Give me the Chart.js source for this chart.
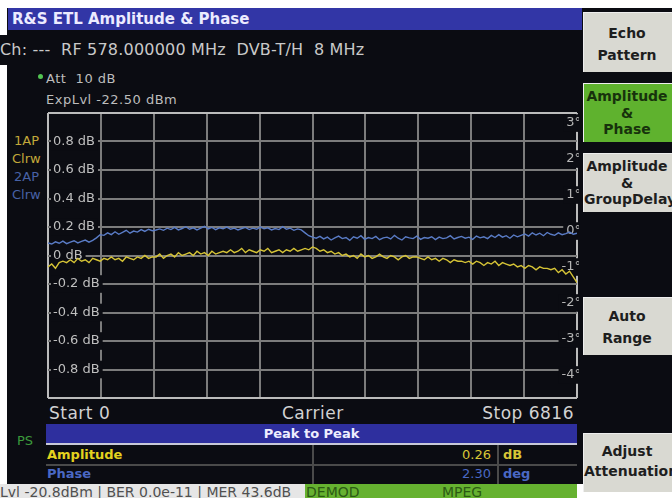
<!DOCTYPE html>
<html>
<head>
<meta charset="utf-8">
<script src="https://cdn.jsdelivr.net/npm/chart.js@4.4.1/dist/chart.umd.min.js"></script>
<style>
html, body { margin: 0; padding: 0; background: #fff; }
#screen { position: relative; width: 672px; height: 498px; overflow: hidden; background: #fff; font-family: "DejaVu Sans", sans-serif; }
.abs { position: absolute; white-space: nowrap; }
#panel { left: 7px; top: 8px; width: 665px; height: 476px; background: #0b0c12; }
#title { left: 8px; top: 8px; width: 574px; height: 22px; background: #3236a6; color: #ecebff; font-weight: bold; font-size: 15px; line-height: 22px; padding-left: 4px; box-sizing: border-box; }
#chline { left: 0; top: 35px; width: 582px; height: 30px; background: #0b0c12; color: #c9c9c9; font-size: 16px; letter-spacing: 0.2px; line-height: 30px; }
.info { color: #bdbdbd; font-size: 13px; letter-spacing: 0.5px; }
.trk { font-size: 13px; }
.axis { color: #d2d2d2; font-size: 17px; letter-spacing: 0.5px; }
#chart { position: absolute; left: 46px; top: 111px; }
.key { left: 583px; width: 100px; background: #d9d9d2; color: #1e1e1e; font-weight: bold; font-size: 14px; border-left: 1px solid #eee; border-top: 1px solid #eee; box-sizing: border-box; }
.key div { width: 86px; text-align: center; position: absolute; left: 0; white-space: nowrap; line-height: 18px; }
#tbl { left: 46px; top: 424px; width: 531px; height: 60px; }
.cell { position: absolute; font-size: 13px; }
</style>
</head>
<body>
<div id="screen">
  <div class="abs" id="panel"></div>
  <div class="abs" id="title">R&amp;S ETL Amplitude &amp; Phase</div>
  <div class="abs" id="chline">Ch: ---&nbsp; RF 578.000000 MHz&nbsp; DVB-T/H&nbsp; 8 MHz</div>

  <div class="abs" style="left:38px;top:74px;width:5px;height:5px;border-radius:3px;background:#52c452;"></div>
  <div class="abs info" style="left:46px;top:71px;">Att&nbsp; 10 dB</div>
  <div class="abs info" style="left:46px;top:92px;">ExpLvl -22.50 dBm</div>

  <div class="abs trk" style="left:14px;top:133px;color:#c2a83a;">1AP</div>
  <div class="abs trk" style="left:12px;top:151px;color:#c2a83a;">Clrw</div>
  <div class="abs trk" style="left:14px;top:169px;color:#4862a6;">2AP</div>
  <div class="abs trk" style="left:12px;top:187px;color:#4862a6;">Clrw</div>

  <canvas id="chart" width="533" height="289"></canvas>

  <div class="abs axis" style="left:49px;top:403px;">Start 0</div>
  <div class="abs axis" style="left:282px;top:403px;">Carrier</div>
  <div class="abs axis" style="right:98px;top:403px;">Stop 6816</div>

  <div class="abs" style="left:17px;top:433px;color:#3c9a3c;font-size:13px;">PS</div>

  <div class="abs" id="tbl">
    <div style="position:absolute;left:0;top:0;width:531px;height:19px;background:#2e2f9e;color:#eeeeff;font-weight:bold;font-size:13px;line-height:19px;text-align:center;">Peak to Peak</div>
    <div style="position:absolute;left:0;top:19px;width:531px;height:2px;background:#c8c8d8;"></div>
    <div style="position:absolute;left:0;top:40px;width:531px;height:2px;background:#4a4a4a;"></div>
    <div style="position:absolute;left:266px;top:21px;width:2px;height:39px;background:#4a4a4a;"></div>
    <div style="position:absolute;left:451px;top:21px;width:2px;height:39px;background:#4a4a4a;"></div>
    <div class="cell" style="left:1px;top:23px;color:#e4d21e;font-weight:bold;">Amplitude</div>
    <div class="cell" style="right:86px;top:23px;color:#d8c636;">0.26</div>
    <div class="cell" style="left:457px;top:23px;color:#d8c636;font-weight:bold;">dB</div>
    <div class="cell" style="left:1px;top:42px;color:#4a68c4;font-weight:bold;">Phase</div>
    <div class="cell" style="right:86px;top:42px;color:#4a68c4;">2.30</div>
    <div class="cell" style="left:457px;top:42px;color:#4a68c4;font-weight:bold;">deg</div>
  </div>

  <div class="abs" style="left:0;top:484px;width:305px;height:14px;overflow:hidden;background:#e6e6e6;color:#505050;font-size:14px;line-height:17px;">Lvl -20.8dBm | BER 0.0e-11 | MER 43.6dB</div>
  <div class="abs" style="left:305px;top:484px;width:272px;height:14px;overflow:hidden;background:#66b230;color:#2c5a14;font-size:14px;line-height:17px;">
    <span style="position:absolute;left:1px;">DEMOD</span><span style="position:absolute;left:137px;">MPEG</span>
  </div>

  <div class="abs key" style="top:12px;height:60px;"><div style="top:11px;">Echo</div><div style="top:33px;">Pattern</div></div>
  <div class="abs key" style="top:83px;height:59px;background:#5fb22e;color:#17320c;"><div style="top:3px;">Amplitude</div><div style="top:20px;">&amp;</div><div style="top:36px;">Phase</div></div>
  <div class="abs key" style="top:153px;height:59px;"><div style="top:3px;">Amplitude</div><div style="top:20px;">&amp;</div><div style="top:36px;">GroupDelay</div></div>
  <div class="abs key" style="top:297px;height:58px;"><div style="top:9px;">Auto</div><div style="top:31px;">Range</div></div>
  <div class="abs key" style="top:433px;height:59px;"><div style="top:8px;">Adjust</div><div style="top:28px;">Attenuation</div></div>
</div>

<script>
// trace 1 : amplitude (dB), one value every 48 carriers, 0 .. 6816
const amplitudeDb = [
  -0.08, -0.06, -0.09, -0.05, -0.04,
  -0.05, -0.03, -0.05, -0.02, -0.04, -0.03, -0.05, -0.02, -0.03,
  -0.04, -0.02, -0.03, -0.01, -0.03, -0.02, -0.04, -0.01, -0.02, -0.03, -0.01, -0.02, 0.00, -0.02, -0.01,
  -0.01, 0.01, -0.02, 0.00, 0.01, -0.01, 0.02, 0.00, 0.01, 0.02, 0.00, 0.03, 0.01, 0.02, 0.00, 0.03, 0.01, 0.02,
  0.03, 0.02, 0.04, 0.02, 0.03, 0.05, 0.02, 0.04, 0.03, 0.02, 0.04, 0.03, 0.05, 0.02, 0.03, 0.04, 0.02, 0.04, 0.03, 0.05, 0.03, 0.04, 0.05,
  0.04, 0.06, 0.05, 0.03,
  0.04, 0.02, 0.03, 0.01, 0.02, 0.00, 0.01,
  -0.01, 0.00, -0.02, 0.01, -0.01, 0.00, -0.02, -0.01, 0.01, -0.01, -0.02, 0.00, -0.01, -0.03, -0.01, 0.00, -0.02, -0.01,
  -0.01, -0.02, -0.03, -0.01, -0.03, -0.02, -0.04, -0.02, -0.03, -0.05, -0.03, -0.04, -0.04,
  -0.05, -0.04, -0.06, -0.04, -0.05, -0.07, -0.05, -0.06, -0.04, -0.07, -0.05, -0.06, -0.07,
  -0.06, -0.08, -0.07, -0.09, -0.07, -0.08, -0.10, -0.08, -0.09, -0.09,
  -0.10, -0.09, -0.12, -0.10, -0.13, -0.11, -0.15, -0.19
];

// trace 2 : phase (deg), same carriers
const phaseDeg = [
  -0.33, -0.36, -0.30, -0.34, -0.28, -0.35, -0.31, -0.27, -0.33, -0.29, -0.25, -0.31, -0.26,
  -0.19, -0.10,
  -0.12, -0.05, -0.10, -0.02, -0.09, -0.04, 0.02, -0.06, 0.00, -0.03, 0.04, -0.01, 0.05, 0.01, 0.03,
  0.06, 0.02, 0.08, 0.04, 0.10, 0.03, 0.07, 0.12, 0.05, 0.09, 0.03, 0.08, 0.13, 0.06, 0.10, 0.04, 0.09, 0.06, 0.11, 0.05,
  0.08, 0.03, 0.07, 0.10, 0.04, 0.08, 0.05, 0.11, 0.06, 0.09, 0.03, 0.07, 0.04, 0.12, 0.05, 0.08, 0.02, 0.06, 0.03,
  -0.05, -0.13, -0.17,
  -0.20, -0.15, -0.22, -0.17, -0.25, -0.19, -0.14, -0.21, -0.18, -0.26,
  -0.16, -0.20, -0.13, -0.23, -0.18, -0.21, -0.15, -0.24, -0.19, -0.17,
  -0.22, -0.12, -0.20, -0.25, -0.16, -0.19, -0.21, -0.14, -0.23, -0.18,
  -0.20, -0.16, -0.24, -0.17, -0.21, -0.19, -0.13, -0.22, -0.18, -0.15,
  -0.20, -0.17, -0.23, -0.14, -0.19, -0.16, -0.21, -0.12, -0.18, -0.10,
  -0.17, -0.13, -0.20, -0.11, -0.16, -0.12,
  -0.08, -0.14, -0.05, -0.11, -0.06, -0.13, -0.04, -0.09, -0.12, -0.05, -0.10, -0.07, -0.03, -0.09, -0.06
];

const carrierStep = 48;
const carriers = amplitudeDb.map((v, i) => i * carrierStep);

// grid / tick positions
const carrierGrid = [0, 681.6, 1363.2, 2044.8, 2726.4, 3408, 4089.6, 4771.2, 5452.8, 6134.4, 6816];
const ampTicks = [-1, -0.8, -0.6, -0.4, -0.2, 0, 0.2, 0.4, 0.6, 0.8, 1];
const phaseTicks = [-4, -3, -2, -1, 0, 1, 2, 3];

const bg = '#0b0c12';
const gridCol = '#7c7c7c';
const edgeCol = '#bcbcbc';

// axes take no room: labels sit inside the plot like on the instrument
function noRoomV(s) { s.width = 0; s.paddingTop = 0; s.paddingBottom = 0; }
function noRoomH(s) { s.height = 0; s.paddingLeft = 0; s.paddingRight = 0; }

const ctx = document.getElementById('chart').getContext('2d');
new Chart(ctx, {
  type: 'line',
  data: {
    datasets: [{
      label: '1AP Clrw',
      data: carriers.map((c, i) => ({ x: c, y: amplitudeDb[i] })),
      yAxisID: 'yAmp',
      borderColor: '#d6c436',
      borderWidth: 1.4,
      pointRadius: 0,
      tension: 0
    }, {
      label: '2AP Clrw',
      data: carriers.map((c, i) => ({ x: c, y: phaseDeg[i] })),
      yAxisID: 'yPh',
      borderColor: '#5a7cc6',
      borderWidth: 1.4,
      pointRadius: 0,
      tension: 0
    }]
  },
  options: {
    responsive: false,
    animation: false,
    layout: { padding: 2 },
    plugins: {
      legend: { display: false },
      tooltip: { enabled: false }
    },
    scales: {
      x: {
        type: 'linear',
        min: 0,
        max: 6816,
        afterBuildTicks: s => { s.ticks = carrierGrid.map(v => ({ value: v })); },
        afterFit: noRoomH,
        ticks: { display: false },
        grid: {
          drawTicks: false,
          lineWidth: 2,
          color: c => (c.tick && (c.tick.value === 0 || c.tick.value === 6816)) ? edgeCol : gridCol
        },
        border: { display: false }
      },
      yAmp: {
        position: 'left',
        min: -1,
        max: 1,
        afterBuildTicks: s => { s.ticks = ampTicks.map(v => ({ value: v })); },
        afterFit: noRoomV,
        ticks: {
          mirror: true,
          padding: 5,
          color: '#bfbfbf',
          font: { family: 'DejaVu Sans', size: 13 },
          callback: v => (Math.abs(v) === 1) ? '' : (v === 0 ? '0 dB' : v.toFixed(1) + ' dB'),
          showLabelBackdrop: true,
          backdropColor: c => (c.tick && Math.abs(c.tick.value) === 1) ? 'rgba(0,0,0,0)' : bg,
          backdropPadding: { top: 1, bottom: 1, left: 2, right: 3 }
        },
        grid: {
          drawTicks: false,
          lineWidth: 2,
          color: c => (c.tick && Math.abs(c.tick.value) === 1) ? edgeCol : gridCol
        },
        border: { display: false }
      },
      yPh: {
        position: 'right',
        min: -4.64,
        max: 3.28,
        afterBuildTicks: s => { s.ticks = phaseTicks.map(v => ({ value: v })); },
        afterFit: noRoomV,
        ticks: {
          mirror: true,
          padding: 4,
          color: '#b5b5b5',
          font: { family: 'DejaVu Sans', size: 13 },
          callback: v => v + '°',
          showLabelBackdrop: true,
          backdropColor: bg,
          backdropPadding: { top: 1, bottom: 1, left: 3, right: 2 }
        },
        grid: { display: false, drawTicks: false },
        border: { display: false }
      }
    }
  }
});
</script>
</body>
</html>
